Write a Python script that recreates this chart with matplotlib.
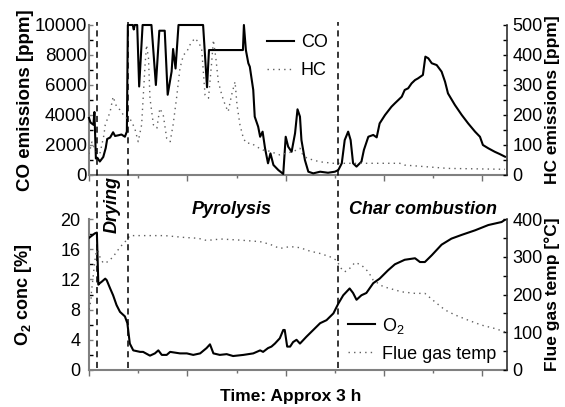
import matplotlib.pyplot as plt
from matplotlib.lines import Line2D
from matplotlib.transforms import blended_transform_factory
from matplotlib.ticker import MultipleLocator

plt.rcParams['font.family'] = ['Liberation Sans', 'DejaVu Sans']
plt.rcParams['mathtext.fontset'] = 'custom'
plt.rcParams['mathtext.rm'] = 'Liberation Sans'
plt.rcParams['mathtext.bf'] = 'Liberation Sans:bold'
plt.rcParams['mathtext.it'] = 'Liberation Sans:italic'
plt.rcParams['mathtext.default'] = 'regular'

# time in axis units (whole run ~3 h over 0..8.5)
co_t = [0.00, 0.03, 0.09, 0.11, 0.14, 0.17, 0.22, 0.29, 0.34, 0.37, 0.43, 0.49,
        0.53, 0.60, 0.66, 0.73, 0.77, 0.79, 0.89, 0.91, 0.93, 0.98, 1.02, 1.09,
        1.27, 1.36, 1.43, 1.54, 1.60, 1.68, 1.71, 1.76, 1.82, 2.32, 2.40, 2.44,
        3.13, 3.15, 3.19, 3.24, 3.27, 3.34, 3.37, 3.44, 3.48, 3.53, 3.58, 3.64,
        3.69, 3.75, 3.85, 3.95, 4.00, 4.05, 4.12, 4.19, 4.24, 4.29, 4.32, 4.39,
        4.46, 4.56, 4.70, 4.86, 5.00, 5.07, 5.14, 5.20, 5.27, 5.32, 5.37, 5.44,
        5.54, 5.59, 5.68, 5.78, 5.85, 5.91, 6.02, 6.15, 6.22, 6.36, 6.42, 6.49,
        6.56, 6.63, 6.69, 6.79, 6.84, 6.90, 6.97, 7.07, 7.17, 7.24, 7.30, 7.44,
        7.58, 7.71, 7.85, 7.95, 8.01, 8.12, 8.25, 8.35, 8.46]
co_ppm = [3800, 3500, 3350, 4200, 1100, 1150, 900, 1200, 1800, 2400, 2500, 2850,
          2600, 2650, 2700, 2550, 2900, 10000, 10000, 9700, 10000, 10000, 5900, 10000,
          10000, 6000, 9620, 9620, 5350, 6900, 8400, 7100, 10000, 10000, 5850, 8330,
          8330, 10000, 8330, 7450, 7220, 5670, 3890, 3220, 2550, 2890, 1780, 780,
          1440, 670, 330, 70, 2550, 1890, 1550, 2780, 4380, 3890, 2330, 1000,
          220, 110, 220, 150, 220, 330, 780, 2330, 2890, 2330, 780, 560,
          890, 1670, 2550, 2670, 2510, 3440, 4000, 4550, 4780, 5220, 5670, 5780,
          6110, 6330, 6440, 6670, 7890, 7780, 7450, 7330, 6890, 6220, 5440, 4670,
          4000, 3440, 2890, 2550, 2000, 1780, 1550, 1400, 1220]

hc_t = [0.00, 0.06, 0.14, 0.22, 0.30, 0.33, 0.43, 0.49, 0.56, 0.63, 0.70, 0.77,
        0.83, 0.93, 1.00, 1.07, 1.14, 1.17, 1.21, 1.24, 1.31, 1.38, 1.44, 1.51,
        1.58, 1.65, 1.71, 1.78, 1.85, 1.92, 1.99, 2.05, 2.15, 2.22, 2.29, 2.36,
        2.43, 2.49, 2.53, 2.58, 2.63, 2.70, 2.77, 2.83, 2.90, 2.97, 3.01, 3.07,
        3.14, 3.20, 3.30, 3.41, 3.54, 3.60, 3.88, 4.15, 4.29, 4.34, 4.43, 4.69,
        4.97, 5.30, 6.32, 6.42, 7.30, 8.46]
hc_ppm = [70, 110, 80, 70, 130, 167, 211, 261, 228, 217, 200, 189,
          189, 156, 111, 167, 367, 433, 389, 256, 167, 156, 222, 200,
          122, 111, 167, 256, 356, 400, 411, 433, 456, 444, 422, 267,
          256, 367, 450, 389, 311, 267, 233, 211, 267, 311, 233, 167,
          122, 106, 106, 94, 83, 83, 67, 78, 89, 70, 56, 44,
          39, 39, 39, 33, 22, 19]

o2_t = [0.00, 0.12, 0.16, 0.19, 0.22, 0.26, 0.33, 0.36, 0.43, 0.49, 0.56, 0.63,
        0.73, 0.78, 0.83, 0.90, 1.04, 1.10, 1.24, 1.34, 1.41, 1.48, 1.58, 1.65,
        1.85, 1.99, 2.12, 2.26, 2.39, 2.46, 2.53, 2.66, 2.80, 2.93, 3.14, 3.34,
        3.48, 3.54, 3.64, 3.71, 3.78, 3.88, 3.95, 3.98, 4.03, 4.09, 4.15, 4.22,
        4.29, 4.42, 4.56, 4.70, 4.83, 4.97, 5.07, 5.17, 5.30, 5.37, 5.44, 5.54,
        5.64, 5.78, 5.91, 6.08, 6.22, 6.42, 6.63, 6.73, 6.83, 6.97, 7.17, 7.37,
        7.58, 7.85, 8.12, 8.39, 8.46]
o2_pct = [17.5, 18.1, 18.2, 11.3, 11.5, 11.7, 12.1, 11.9, 10.8, 9.9, 8.6, 7.7,
          7.1, 6.2, 3.5, 2.6, 2.4, 2.4, 1.9, 2.2, 2.6, 2.0, 2.0, 2.4,
          2.2, 2.2, 2.0, 2.2, 2.9, 3.4, 2.2, 2.0, 2.1, 1.85, 2.0, 2.2,
          2.6, 2.4, 2.9, 3.1, 3.5, 4.2, 5.3, 5.3, 3.1, 3.1, 3.7, 4.0,
          3.5, 4.4, 5.3, 6.2, 6.6, 7.5, 8.8, 9.9, 10.8, 10.2, 9.3, 9.9,
          10.2, 11.5, 12.1, 13.2, 14.0, 14.6, 14.8, 14.3, 14.3, 15.2, 16.6, 17.4,
          17.9, 18.5, 19.2, 19.6, 19.9]

temp_t = [0.00, 0.04, 0.05, 0.12, 0.16, 0.19, 0.22, 0.29, 0.39, 0.49, 0.59, 0.70,
          0.77, 0.83, 1.14, 1.54, 1.95, 2.22, 2.36, 2.46, 2.68, 3.08, 3.48, 3.68,
          3.88, 4.09, 4.29, 4.49, 4.69, 4.90, 5.03, 5.13, 5.20, 5.30, 5.41, 5.54,
          5.68, 5.78, 5.98, 6.36, 6.63, 6.83, 7.03, 7.24, 7.44, 7.71, 7.98, 8.25,
          8.46]
temp_c = [160, 185, 207, 290, 325, 313, 300, 283, 287, 300, 318, 336,
          344, 356, 356, 356, 351, 349, 344, 344, 347, 344, 340, 333,
          322, 327, 324, 315, 309, 300, 291, 269, 260, 269, 285, 278,
          260, 238, 221, 207, 203, 203, 181, 159, 146, 132, 119, 110,
          101]

phase_t = [0.16, 0.80, 5.07]
phase_names = ['Drying', 'Pyrolysis', 'Char combustion']
phase_label_t = [0.47, 2.91, 6.79]

W, H = 565, 407
fig = plt.figure(figsize=(W / 100, H / 100), dpi=100)
ax1 = fig.add_axes([89 / W, 1 - 175 / H, 418 / W, 150 / H])
ax2 = fig.add_axes([89 / W, 1 - 370 / H, 418 / W, 151 / H])
ax1r = ax1.twinx()
ax2r = ax2.twinx()

dots = (0, (1, 3))
grey = '#606060'
fs = 13

co_line, = ax1.plot(co_t, co_ppm, color='black', lw=1.5, clip_on=False, zorder=3)
hc_line, = ax1r.plot(hc_t, hc_ppm, color=grey, lw=1.0, ls=dots)
o2_line, = ax2.plot(o2_t, o2_pct, color='black', lw=1.5, zorder=3)
tp_line, = ax2r.plot(temp_t, temp_c, color=grey, lw=1.0, ls=dots)

ax1.set_ylim(0, 10000)
ax1r.set_ylim(0, 500)
ax2.set_ylim(0, 20)
ax2r.set_ylim(0, 400)

ax1.yaxis.set_major_locator(MultipleLocator(2000))
ax1.yaxis.set_minor_locator(MultipleLocator(1000))
ax1r.yaxis.set_major_locator(MultipleLocator(100))
ax1r.yaxis.set_minor_locator(MultipleLocator(50))
ax2.yaxis.set_major_locator(MultipleLocator(4))
ax2.yaxis.set_minor_locator(MultipleLocator(2))
ax2r.yaxis.set_major_locator(MultipleLocator(100))
ax2r.yaxis.set_minor_locator(MultipleLocator(50))

for a in (ax1, ax2, ax1r, ax2r):
    a.set_xlim(0, 8.5)
    a.xaxis.set_major_locator(MultipleLocator(2))
    a.xaxis.set_minor_locator(MultipleLocator(1))
    a.tick_params(axis='x', which='major', direction='out', length=4, width=1,
                  color='#707070', labelbottom=False)
    a.tick_params(axis='x', which='minor', direction='out', length=2, width=1,
                  color='#707070')
    a.tick_params(axis='y', which='major', direction='in', length=3, width=1,
                  labelsize=fs)
    a.tick_params(axis='y', which='minor', direction='in', length=3, width=1)
    a.spines['top'].set_visible(False)
    a.patch.set_visible(False)

ax1.tick_params(axis='y', which='major', pad=1.5, labelsize=13.5)
ax2.tick_params(axis='y', which='major', pad=6)
ax1r.tick_params(axis='y', which='major', pad=4)
ax2r.tick_params(axis='y', which='major', pad=4)

for a in (ax1, ax2):
    a.spines['left'].set_color('#808080')
    a.spines['left'].set_linewidth(1.5)
    a.spines['bottom'].set_color('#808080')
    a.spines['bottom'].set_linewidth(1.5)
    a.spines['right'].set_visible(False)
    a.tick_params(axis='y', colors='#808080', labelcolor='black')
for a in (ax1r, ax2r):
    a.spines['left'].set_visible(False)
    a.spines['bottom'].set_visible(False)
    a.spines['right'].set_color('#303030')
    a.spines['right'].set_linewidth(1.2)

ax1.set_ylabel('CO emissions [ppm]', fontsize=13.5, fontweight='bold')
ax1r.set_ylabel('HC emissions [ppm]', fontsize=12.5, fontweight='bold')
ax2.set_ylabel(r'$\mathbf{O_2}$ conc [%]', fontsize=fs, fontweight='bold')
ax2r.set_ylabel('Flue gas temp [°C]', fontsize=12.5, fontweight='bold')
ax1.yaxis.set_label_coords(-0.132, 0.5)
ax2.yaxis.set_label_coords(-0.132, 0.5)
ax1r.yaxis.set_label_coords(1.09, 0.5)
ax2r.yaxis.set_label_coords(1.09, 0.5)

fig.text(291 / W, 1 - 396 / H, 'Time: Approx 3 h', ha='center', va='center',
         fontsize=12.5, fontweight='bold')

# phase boundaries, running through both panels
trans = blended_transform_factory(ax2.transData, fig.transFigure)
for t in phase_t:
    fig.add_artist(Line2D([t, t], [1 - 368 / H, 1 - 22 / H], transform=trans,
                          color='black', lw=1.1, ls=(0, (4, 3))))

ptrans = blended_transform_factory(ax2.transData, ax2.transAxes)
for name, t in zip(phase_names, phase_label_t):
    if name == 'Drying':
        ax2.text(t, 1.095, name, transform=ptrans, rotation=90, ha='center',
                 va='center', fontsize=fs, fontweight='bold', style='italic')
    else:
        ax2.text(t, 1.06, name, transform=ptrans, ha='center', va='center',
                 fontsize=fs, fontweight='bold', style='italic')

ax1r.legend([co_line, hc_line], ['CO', 'HC'], loc='upper left',
            bbox_to_anchor=(0.425, 0.94), frameon=False, fontsize=fs,
            handlelength=1.5, handletextpad=0.4, labelspacing=0.6,
            borderpad=0, borderaxespad=0)
ax2r.legend([o2_line, tp_line], ['O$_2$', 'Flue gas temp'], loc='upper left',
            bbox_to_anchor=(0.62, 0.36), frameon=False, fontsize=fs,
            handlelength=1.5, handletextpad=0.4, labelspacing=0.55,
            borderpad=0, borderaxespad=0)

fig.savefig('out.png', dpi=100)
